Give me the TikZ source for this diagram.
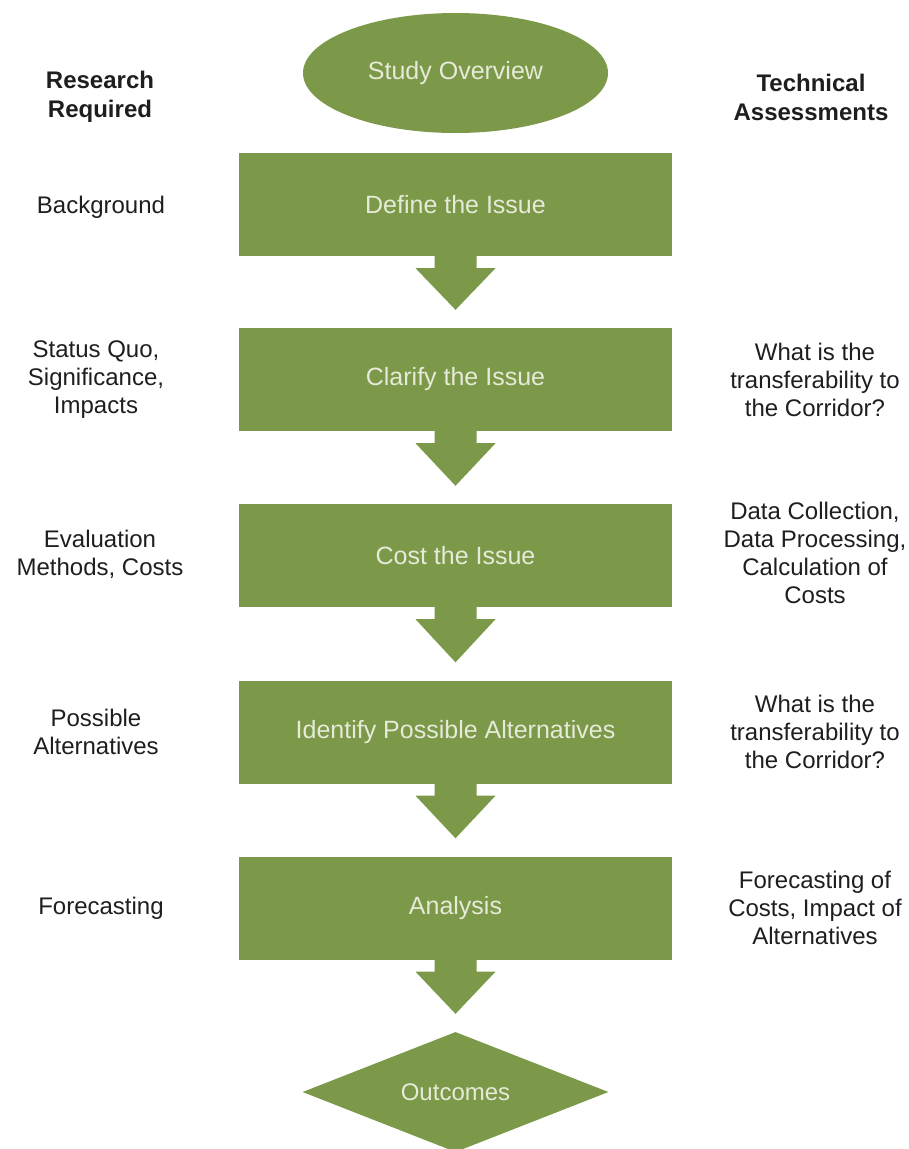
\documentclass[tikz,border=0pt]{standalone}
\usepackage{fontspec}
\setmainfont{Liberation Sans}
\usetikzlibrary{shapes.geometric,calc}
\definecolor{flowgreen}{RGB}{124,153,73}
\definecolor{boxtext}{RGB}{230,234,216}
\definecolor{labeltext}{RGB}{30,30,30}
\begin{document}
\begin{tikzpicture}[x=1pt,y=-1pt,
  stepbox/.style={fill=flowgreen,draw=none,minimum width=433pt,minimum height=103pt,inner sep=0pt,
    text=boxtext,font=\fontsize{25}{29}\selectfont},
  startshape/.style={ellipse,fill=flowgreen,minimum width=305pt,minimum height=120pt,inner sep=0pt,
    text=boxtext,font=\fontsize{25}{29}\selectfont},
  endshape/.style={diamond,aspect=2.5,fill=flowgreen,minimum width=306pt,minimum height=120pt,inner sep=0pt,
    text=boxtext,font=\fontsize{24}{28}\selectfont},
  sidelabel/.style={align=center,text=labeltext,inner sep=0pt,font=\fontsize{24}{28}\selectfont},
  headlabel/.style={sidelabel,font=\fontsize{24}{29}\selectfont\bfseries},
  blockarrow/.style={fill=flowgreen,draw=none}
]
\useasboundingbox (0,0) rectangle (909,1149);

\node[startshape] (start) at (455.5,73) {Study Overview};
\node[stepbox] (b1) at (455.5,204.5) {Define the Issue};
\node[stepbox] (b2) at (455.5,379.5) {Clarify the Issue};
\node[stepbox] (b3) at (455.5,555.5) {Cost the Issue};
\node[stepbox] (b4) at (455.5,732) {Identify Possible Alternatives};
\node[stepbox] (b5) at (455.5,908) {Analysis};
\node[endshape] (out) at (455.5,1092) {Outcomes};

\foreach \a/\b in {b1/b2,b2/b3,b3/b4,b4/b5,b5/out}{
  \fill[blockarrow] ($(\a.south)+(-21,-1)$) -- ($(\a.south)+(-21,12)$) -- ($(\a.south)+(-40,12)$)
    -- ($(\b.north)+(0,-18)$) -- ($(\a.south)+(40,12)$) -- ($(\a.south)+(21,12)$)
    -- ($(\a.south)+(21,-1)$) -- cycle;
}

\node[headlabel] (hleft) at (100,97) {Research\\Required};
\node[headlabel] (hright) at (811,97) {Technical\\Assessments};

\node[sidelabel] (l1) at (101,207) {Background};
\node[sidelabel] (l2) at (96,380) {Status Quo,\\Significance,\\Impacts};
\node[sidelabel] (l3) at (100,554) {Evaluation\\Methods, Costs};
\node[sidelabel] (l4) at (96,732) {Possible\\Alternatives};
\node[sidelabel] (l5) at (101,908) {Forecasting};

\node[sidelabel] (r2) at (815,380) {What is the\\transferability to\\the Corridor?};
\node[sidelabel] (r3) at (815,553) {Data Collection,\\Data Processing,\\Calculation of\\Costs};
\node[sidelabel] (r4) at (815,732) {What is the\\transferability to\\the Corridor?};
\node[sidelabel] (r5) at (815,908) {Forecasting of\\Costs, Impact of\\Alternatives};
\end{tikzpicture}
\end{document}
